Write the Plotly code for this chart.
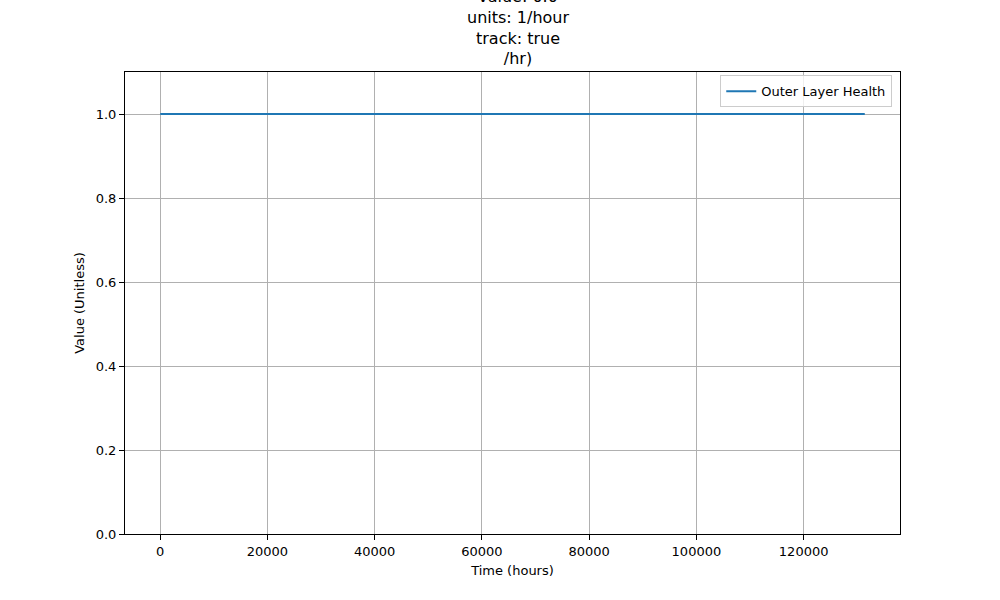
import plotly.graph_objects as go

# ── data ────────────────────────────────────────────────────────────
time_hours = [0, 131400]
outer_layer_health = [1.0, 1.0]

TITLE_LINES = ["value: 0.0", "units: 1/hour", "track: true", "/hr)"]
X_TICKS = [0, 20000, 40000, 60000, 80000, 100000, 120000]
Y_TICKS = [0.0, 0.2, 0.4, 0.6, 0.8, 1.0]
# ────────────────────────────────────────────────────────────────────

FONT = "DejaVu Sans"

fig = go.Figure()
fig.add_trace(
    go.Scatter(
        x=time_hours,
        y=outer_layer_health,
        mode="lines",
        name="Outer Layer Health",
        line=dict(color="#1f77b4", width=2),
    )
)

axis_common = dict(
    showline=True,
    linecolor="black",
    linewidth=1,
    mirror=True,
    ticks="outside",
    ticklen=5,
    tickcolor="black",
    showgrid=True,
    gridcolor="#b0b0b0",
    gridwidth=1,
    zeroline=False,
    tickfont=dict(family=FONT, size=13, color="black"),
    title_font=dict(family=FONT, size=13, color="black"),
)

fig.update_xaxes(
    title_text="Time (hours)",
    range=[-6570, 137970],
    tickvals=X_TICKS,
    ticktext=[str(t) for t in X_TICKS],
    title_standoff=8,
    **axis_common,
)
fig.update_yaxes(
    title_text="Value (Unitless)",
    range=[0, 1.1],
    tickvals=Y_TICKS,
    ticktext=[f"{t:.1f}" for t in Y_TICKS],
    title_standoff=8,
    **axis_common,
)

# title as an annotation so the multi-line block grows upward from the axes
fig.add_annotation(
    text="<br>".join(TITLE_LINES),
    xref="paper",
    yref="paper",
    x=0.5,
    y=1,
    xanchor="center",
    yanchor="bottom",
    xshift=5,
    yshift=2,
    showarrow=False,
    align="center",
    font=dict(family=FONT, size=16, color="black"),
)

fig.update_layout(
    width=1000,
    height=600,
    plot_bgcolor="white",
    paper_bgcolor="white",
    margin=dict(l=125, r=100, t=72, b=66),
    legend=dict(
        x=0.99,
        y=0.993,
        xanchor="right",
        yanchor="top",
        bgcolor="rgba(255,255,255,0.8)",
        bordercolor="#cccccc",
        borderwidth=1,
        font=dict(family=FONT, size=13, color="black"),
    ),
    showlegend=True,
)

# drop the page's default body margin so the figure sits at the window corner
fig.write_html(
    "out.html",
    config={"displayModeBar": False},
    post_script="document.body.style.margin='0';",
)
